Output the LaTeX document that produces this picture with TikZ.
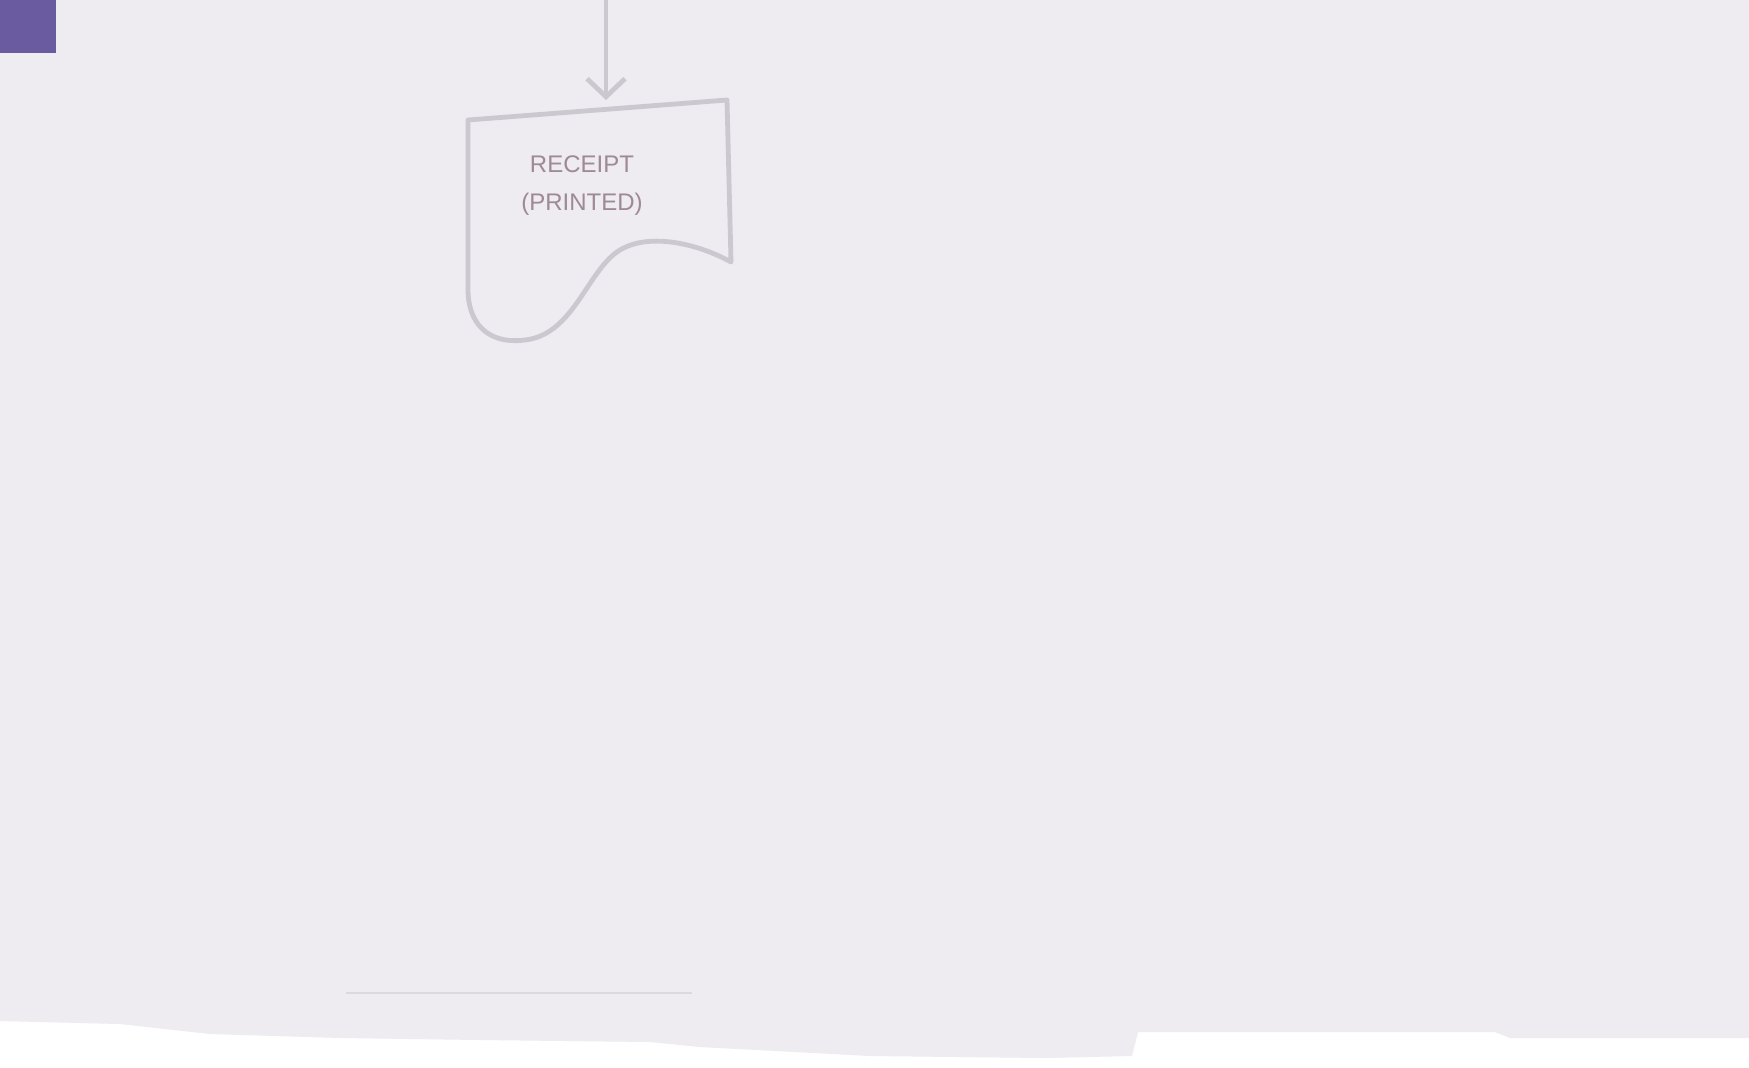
\documentclass[tikz,border=0pt]{standalone}
\usepackage{fontspec}
\setmainfont{Liberation Sans}
\usetikzlibrary{arrows.meta}

\definecolor{boardbg}{HTML}{EEEBF1}
\definecolor{marker}{HTML}{CCC8D0}
\definecolor{inkred}{HTML}{9E8A93}
\definecolor{tagpurple}{HTML}{6A5A9F}

\begin{document}
\begin{tikzpicture}[x=0.5pt, y=-0.5pt, >={Straight Barb[length=9pt, width=19pt]},
    every node/.style={font=\small},
    pen/.style={draw=marker, line width=2.4pt, line join=round, line cap=round}]

    % --- 1. 画面の枠と背景 ---
    \useasboundingbox (0,0) rectangle (1749,1067);
    \fill[white] (0,0) rectangle (1749,1067);
    \fill[boardbg] (0,0) -- (1749,0) -- (1749,1038) -- (1510,1038) -- (1495,1032)
        -- (1138,1032) -- (1132,1056) -- (1045,1058) -- (870,1056) -- (700,1047)
        -- (650,1042) -- (480,1040) -- (340,1038) -- (210,1034) -- (120,1024)
        -- (0,1021) -- cycle;
    % 下のかすれた線
    \draw[draw=boardbg!92!black, line width=1pt] (346,993) -- (692,993);

    % 左上のタグ
    \fill[tagpurple] (0,0) rectangle (56,53);

    % --- 2. 座標の定義 ---
    \def\xArr{606}
    \coordinate (ArrTop) at (\xArr, 0);
    \coordinate (DocTop) at (\xArr, 100);

    % --- 3. 書類の形 ---
    \draw[pen] (468,120) -- (727,100) -- (731,262)
        .. controls (695,242) and (640,230) .. (612,256)
        .. controls (585,280) and (570,335) .. (525,340)
        .. controls (485,345) and (468,320) .. (468,290) -- cycle;

    % --- 4. 矢印とラベル ---
    \draw[pen, ->] (ArrTop) -- (DocTop);
    \node[font=\fontsize{12}{19}\selectfont, text=inkred, align=center] (Receipt)
        at (582,186) {RECEIPT\\(PRINTED)};

\end{tikzpicture}
\end{document}
